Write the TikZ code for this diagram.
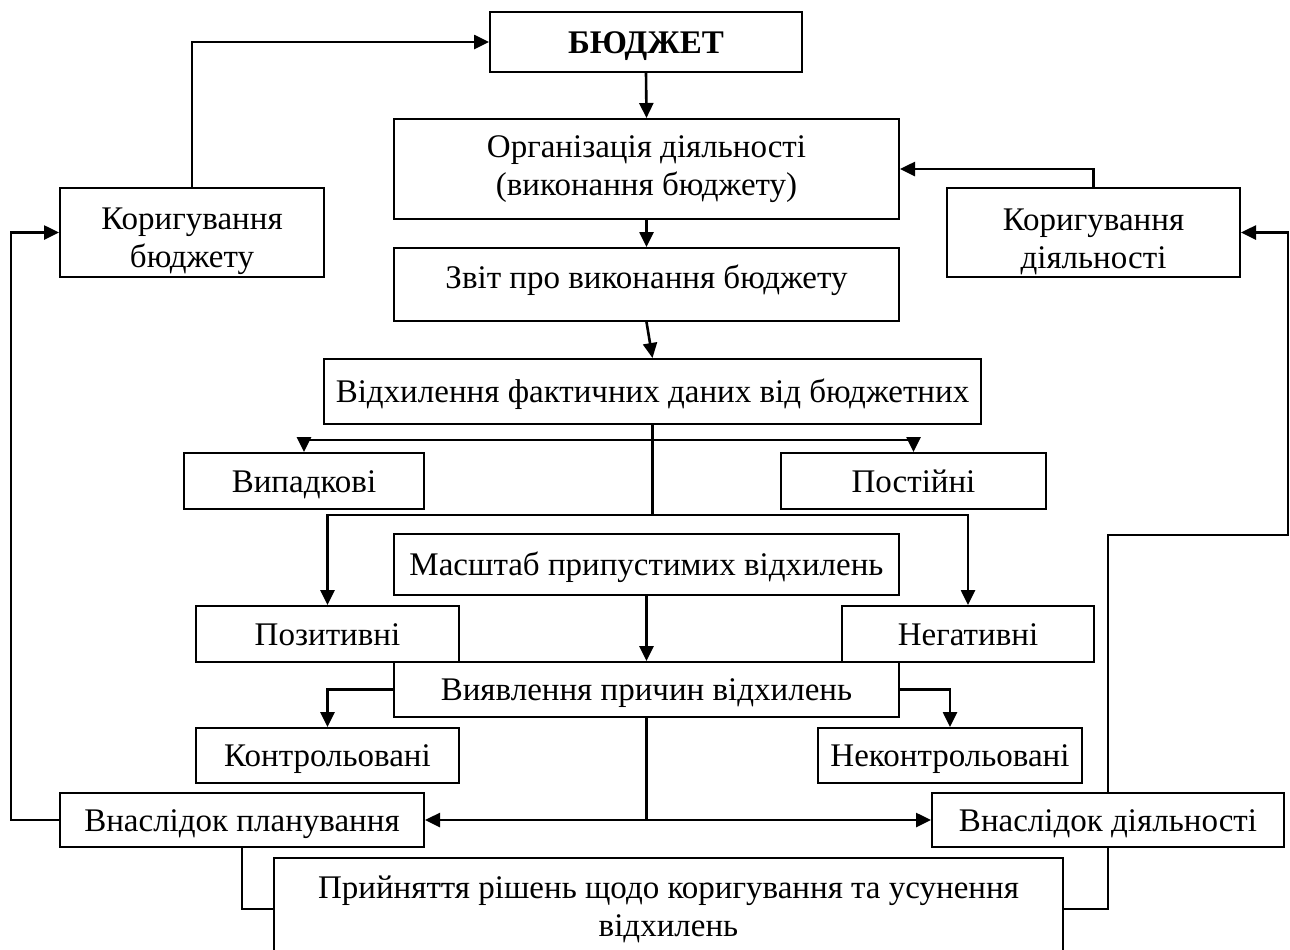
\documentclass[tikz,border=0pt]{standalone}
\usepackage{fontspec}
\setmainfont{Liberation Serif}
\usetikzlibrary{arrows.meta}
\begin{document}
\begin{tikzpicture}[x=0.5pt,y=-0.5pt,
    blok/.style={draw,line width=1pt,inner sep=0pt,align=center,font=\fontsize{16.5}{19}\selectfont},
    odn/.style={blok,text height=11pt,text depth=0pt},
    zv/.style={line width=1.3pt},
    str/.style={zv,-{Triangle[length=7.5pt,width=7pt]}}]
  \useasboundingbox (0,0) rectangle (1290,949);
  % blocks
  \node[odn,minimum width=156pt,minimum height=30pt,font=\fontsize{16.5}{19}\selectfont\bfseries] (budget) at (646,42) {БЮДЖЕТ};
  \node[blok,minimum width=252.5pt,minimum height=50pt] (org) at (646.5,169) {Організація діяльності\\(виконання бюджету)};
  \node[blok,minimum width=132pt,minimum height=44.5pt] (korbud) at (192,232.5) {\rule{0pt}{20pt}Коригування\\бюджету};
  \node[blok,minimum width=146.5pt,minimum height=44.5pt] (kordial) at (1093.5,232.5) {\rule{0pt}{20pt}Коригування\\діяльності};
  \node[odn,text depth=7pt,minimum width=252.5pt,minimum height=36.5pt] (zvit) at (646.5,284.5) {Звіт про виконання бюджету};
  \node[odn,minimum width=328.5pt,minimum height=32.5pt] (vidkh) at (652.5,391.5) {Відхилення фактичних даних від бюджетних};
  \node[odn,minimum width=120pt,minimum height=28pt] (vypad) at (304,481) {Випадкові};
  \node[odn,minimum width=132.5pt,minimum height=28pt] (post) at (913.5,481) {Постійні};
  \node[odn,minimum width=252.5pt,minimum height=30.5pt] (masht) at (646.5,564.5) {Масштаб припустимих відхилень};
  \node[odn,minimum width=131.5pt,minimum height=28pt] (pozyt) at (327.5,634) {Позитивні};
  \node[odn,minimum width=126pt,minimum height=28pt] (negat) at (968,634) {Негативні};
  \node[odn,minimum width=252.5pt,minimum height=27.5pt] (vyyav) at (646.5,689.5) {Виявлення причин відхилень};
  \node[odn,minimum width=131.5pt,minimum height=27.5pt] (kontr) at (327.5,755.5) {Контрольовані};
  \node[odn,minimum width=132pt,minimum height=27.5pt] (nekontr) at (950,755.5) {Неконтрольовані};
  \node[odn,minimum width=182pt,minimum height=27pt] (vnplan) at (242,820) {Внаслідок планування};
  \node[odn,minimum width=176pt,minimum height=27pt] (vndial) at (1108,820) {Внаслідок діяльності};
  \node[blok,minimum width=394.5pt,minimum height=51pt] (pryin) at (668.5,909) {Прийняття рішень щодо коригування та усунення\\відхилень};
  % branch points
  \coordinate (s1) at (652.5,440);
  \coordinate (s2) at (652.5,515);
  \coordinate (s3) at (646.5,820);
  \coordinate (rt) at (1288,535);
  % connectors
  \draw[str] (korbud.north) |- (budget.west);
  \draw[str] (budget.south) -- (org.north);
  \draw[str] (kordial.north) |- (org.east);
  \draw[str] (org.south) -- (zvit.north);
  \draw[str] (zvit.south) -- (vidkh.north);
  \draw[zv] (vidkh.south) -- (s2);
  \draw[str] (s1) -| (vypad.north);
  \draw[str] (s1) -| (post.north);
  \draw[str] (s2) -| (pozyt.north);
  \draw[str] (s2) -| (negat.north);
  \draw[str] (masht.south) -- (vyyav.north);
  \draw[str] (vyyav.west) -| (kontr.north);
  \draw[str] (vyyav.east) -| (nekontr.north);
  \draw[zv] (vyyav.south) -- (s3);
  \draw[str] (s3) -- (vnplan.east);
  \draw[str] (s3) -- (vndial.west);
  \draw[str] (vnplan.west) -- ++(-48,0) |- (korbud.west);
  \draw[str] (vndial.north) |- (rt) |- (kordial.east);
  \draw[zv] (vnplan.south) |- (pryin.west);
  \draw[zv] (vndial.south) |- (pryin.east);
\end{tikzpicture}
\end{document}
